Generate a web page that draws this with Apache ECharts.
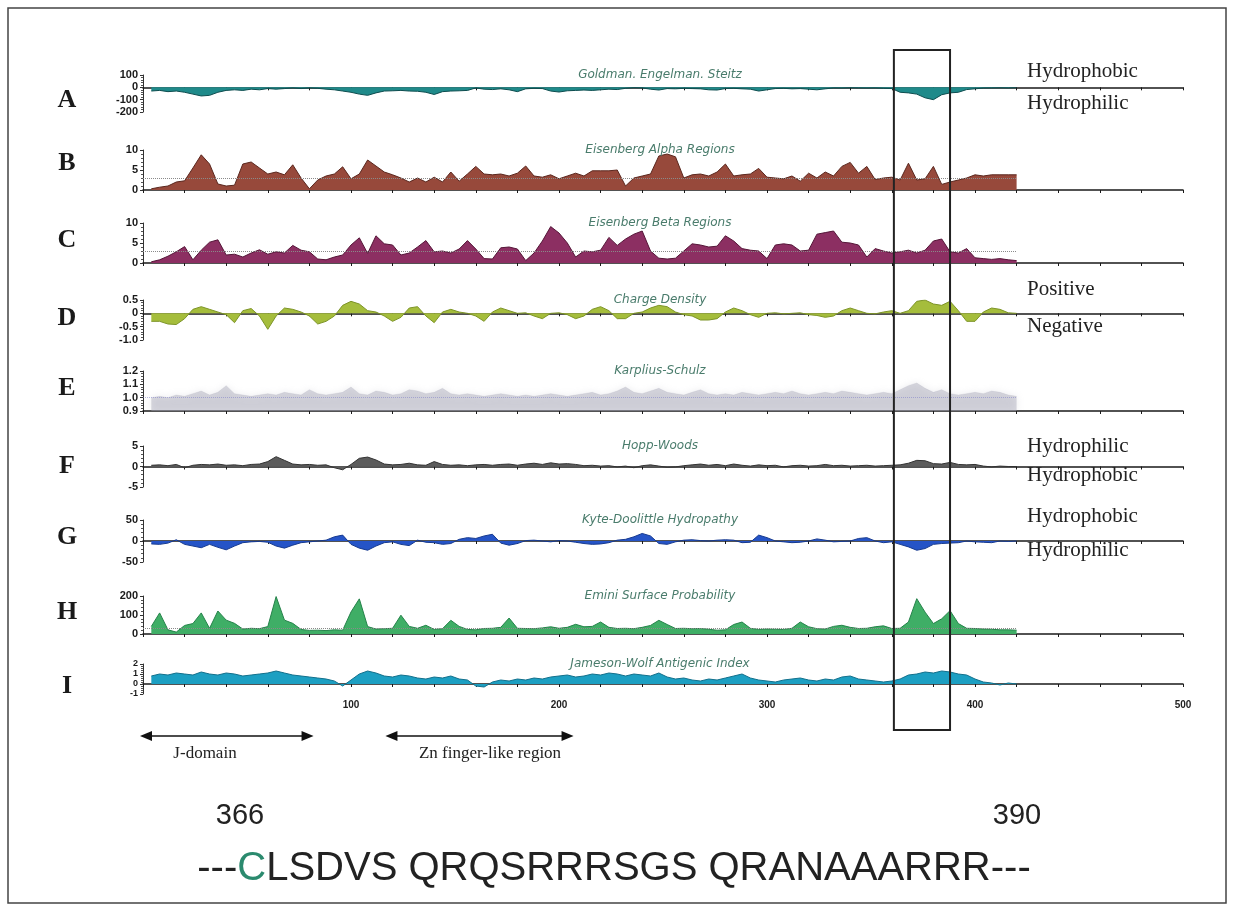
<!DOCTYPE html>
<html>
<head>
<meta charset="utf-8">
<script src="https://cdn.jsdelivr.net/npm/echarts@6/dist/echarts.min.js"></script>
<style>
  html, body { margin: 0; padding: 0; background: #ffffff; }
  #chart { width: 1233px; height: 909px; }
</style>
</head>
<body>
<div id="chart"></div>
<script>
// Residue positions of the sampled profile points
const residues = [4,8,12,16,20,24,28,32,36,40,44,48,52,56,60,64,68,72,76,80,84,88,92,96,100,
  104,108,112,116,120,124,128,132,136,140,144,148,152,156,160,164,168,172,176,180,184,188,192,196,200,
  204,208,212,216,220,224,228,232,236,240,244,248,252,256,260,264,268,272,276,280,284,288,292,296,300,
  304,308,312,316,320,324,328,332,336,340,344,348,352,356,360,364,368,372,376,380,384,388,392,396,400,
  404,408,412,416,420];

// A: Goldman, Engelman, Steitz hydrophobicity
const goldman = [-30,-25,-35,-30,-40,-55,-70,-65,-40,-25,-20,-25,-15,-20,-10,-15,-10,-5,-10,-5,-8,-15,-20,-30,-40,
  -55,-65,-45,-30,-28,-25,-30,-32,-40,-58,-35,-30,-28,-25,-5,-15,-18,-12,-20,-35,-12,-8,-10,-30,-38,
  -28,-25,-22,-25,-20,-15,-18,-8,-3,-5,-15,-22,-10,-12,-8,-10,-12,-20,-22,-10,-8,-12,-15,-30,-20,
  -10,-8,-12,-10,-15,-20,-12,-5,-6,-4,-5,-6,-5,-8,-10,-40,-45,-55,-85,-100,-60,-45,-40,-18,-12,
  -6,-5,-4,-5,-3];

// B: Eisenberg alpha regions
const eisenbergAlpha = [0.3,0.7,1.0,2.0,2.3,5.5,8.8,6.5,1.5,1.0,1.2,6.5,7.0,5.5,4.0,4.5,3.8,6.3,3.0,0.3,2.5,3.5,4.0,5.8,2.8,
  4.0,7.5,6.0,4.5,3.8,3.0,2.0,3.0,2.0,3.2,2.0,4.5,2.2,4.0,5.9,4.0,3.8,4.0,3.5,4.2,6.0,3.5,3.2,3.8,2.8,
  3.5,4.2,3.5,4.8,4.8,4.8,5.0,1.0,3.0,3.5,4.0,8.5,9.0,8.3,3.0,3.8,4.0,3.5,4.5,6.5,3.5,3.8,4.0,5.4,3.2,
  3.0,2.8,3.5,2.2,4.2,3.0,4.5,3.5,5.9,6.9,4.2,5.9,2.6,3.0,3.2,2.5,6.7,2.5,2.8,5.9,1.4,2.0,2.5,3.0,3.8,
  3.5,3.8,3.8,3.8,3.8];

// C: Eisenberg beta regions
const eisenbergBeta = [0.3,0.8,1.7,2.8,4.1,0.8,3.2,5.2,5.8,2.0,2.2,1.5,2.5,3.3,2.2,2.8,2.5,4.4,3.2,2.8,1.0,0.8,1.5,2.0,4.5,
  6.3,2.4,6.8,4.8,4.5,2.0,2.5,4.0,5.6,2.8,3.0,2.5,3.5,5.6,3.5,1.1,1.0,3.8,4.0,3.5,0.6,2.5,5.5,9.1,7.5,
  5.0,1.5,3.0,2.8,3.2,6.4,4.4,6.0,7.2,8.0,3.0,1.2,1.0,1.2,3.0,4.8,4.5,4.0,4.2,6.8,5.5,3.6,3.2,3.0,1.1,
  4.5,4.8,4.5,3.0,3.2,7.2,7.6,8.0,5.2,5.0,4.5,1.5,3.6,3.0,2.5,2.8,3.2,2.5,3.2,5.5,6.0,2.8,2.5,3.6,1.3,
  1.1,0.9,1.1,0.8,0.6];

// D: charge density
const chargeDensity = [-0.3,-0.3,-0.4,-0.42,-0.2,0.15,0.25,0.15,0.05,-0.05,-0.35,0.1,0.18,-0.1,-0.6,-0.1,0.2,0.15,0.05,-0.1,-0.4,-0.3,-0.1,0.3,0.45,
  0.35,0.1,0.05,-0.1,-0.3,-0.15,0.2,0.25,-0.1,-0.35,0.05,0.15,0.05,0.0,-0.1,-0.3,0.05,0.2,0.1,0.0,0.02,-0.1,-0.2,0.0,0.02,
  -0.05,-0.2,-0.1,0.15,0.25,0.1,-0.2,-0.2,0.0,0.05,0.2,0.3,0.25,0.05,-0.05,-0.1,-0.25,-0.25,-0.2,0.05,0.2,0.1,-0.05,-0.15,0.0,
  0.02,-0.02,0.0,0.02,-0.05,-0.08,-0.15,-0.1,0.1,0.2,0.1,0.0,-0.02,0.05,0.1,0.0,0.1,0.45,0.5,0.35,0.3,0.45,0.1,-0.3,-0.3,
  0.05,0.2,0.15,0.02,0.0];

// E: Karplus-Schulz flexibility
const karplusSchulz = [1.00,1.01,1.00,1.02,1.01,1.03,1.05,1.02,1.04,1.09,1.03,1.02,1.01,1.02,1.03,1.02,1.04,1.03,1.02,1.06,1.03,1.02,1.03,1.04,1.08,
  1.03,1.02,1.05,1.04,1.02,1.03,1.06,1.05,1.03,1.04,1.07,1.03,1.02,1.03,1.02,1.01,1.02,1.03,1.02,1.01,1.02,1.01,1.02,1.03,1.02,
  1.01,1.02,1.03,1.04,1.02,1.03,1.05,1.08,1.04,1.03,1.05,1.07,1.04,1.03,1.02,1.04,1.06,1.03,1.02,1.03,1.02,1.04,1.03,1.02,1.03,
  1.04,1.03,1.05,1.03,1.02,1.03,1.04,1.03,1.05,1.04,1.03,1.02,1.03,1.04,1.03,1.06,1.09,1.11,1.07,1.04,1.06,1.03,1.02,1.03,1.04,
  1.03,1.05,1.04,1.02,1.01];

// F: Hopp-Woods hydrophilicity
const hoppWoods = [0.3,0.4,0.2,0.5,-0.3,0.3,0.5,0.4,0.6,0.3,0.4,0.2,0.5,0.6,1.2,2.4,1.5,0.6,0.4,0.5,0.3,0.4,-0.3,-0.8,0.5,
  2.0,2.3,1.6,0.6,0.4,0.5,0.8,0.4,0.3,1.2,0.5,0.3,0.4,0.2,0.4,0.5,0.3,0.5,0.6,0.3,0.6,0.8,0.5,0.9,0.6,
  0.7,0.5,0.2,0.3,0.1,0.2,-0.1,0.1,-0.3,0.2,0.4,0.1,-0.2,-0.1,0.2,0.4,0.6,0.3,0.5,0.2,0.6,0.3,0.1,0.4,0.2,
  0.3,-0.1,0.2,0.3,0.1,0.2,0.5,0.2,0.3,0.1,0.2,0.3,0.1,0.2,0.3,0.4,0.8,1.5,1.4,0.7,0.6,1.0,0.5,0.4,0.5,
  0.1,-0.1,0.1,0.0,0.0];

// G: Kyte-Doolittle hydropathy
const kyteDoolittle = [-7,-8,-5,3,-8,-12,-16,-8,-15,-21,-12,-4,-2,-1,-3,-12,-17,-10,-4,-2,0,2,10,14,-8,
  -17,-22,-12,-4,-2,-8,-11,2,-3,-4,-8,-6,4,8,6,12,16,-5,-10,-6,1,2,0,-2,1,
  0,-3,-6,-8,-7,-4,2,4,10,18,12,-6,-8,-2,2,3,1,0,2,3,2,-4,-3,14,8,
  0,-2,-4,-3,0,5,2,-2,-1,0,6,8,0,-4,-2,-8,-14,-22,-18,-8,-6,-5,-4,0,-2,
  -3,-4,0,-1,0];

// H: Emini surface probability
const emini = [40,111,22,10,45,55,111,30,121,73,56,26,30,28,39,197,73,56,24,19,20,18,22,20,116,
  185,39,26,28,30,99,40,30,46,24,28,72,40,24,22,29,30,35,84,30,29,28,32,38,30,
  35,51,38,40,63,35,29,30,28,35,45,72,50,29,30,28,29,25,20,22,50,63,30,24,26,
  25,24,30,63,38,28,26,40,46,35,29,30,38,43,29,30,63,186,115,55,80,123,55,30,29,
  26,25,22,22,20];

// I: Jameson-Wolf antigenic index
const jamesonWolf = [0.8,1.0,0.9,1.1,1.0,0.9,1.2,1.0,0.9,1.1,1.0,0.8,0.9,1.0,1.1,1.3,1.1,0.9,0.8,0.7,0.6,0.5,0.3,-0.2,0.4,
  1.0,1.3,1.1,0.8,0.7,0.9,0.8,0.6,0.5,0.7,0.6,0.8,0.5,0.4,-0.2,-0.3,0.2,0.4,0.3,0.5,0.4,0.6,0.5,0.7,0.8,
  0.9,0.7,0.8,1.0,0.9,1.1,1.0,0.8,1.0,0.9,0.8,1.1,0.7,0.5,0.6,0.4,0.3,0.5,0.4,0.6,0.8,1.0,0.6,0.4,0.3,
  0.2,0.4,0.5,0.6,0.4,0.3,0.5,0.4,0.7,0.8,0.5,0.4,0.3,0.2,0.3,0.5,0.9,1.0,1.2,1.1,1.3,1.2,1.0,0.9,0.5,
  0.2,0.1,-0.1,0.1,0.0];

// Threshold (average) lines drawn dotted
const alphaThreshold = 3;
const betaThreshold = 3;
const eminiThreshold = 28;
const flexibilityThreshold = 1.0;

// Highlighted segment and annotated domains (residue numbers)
const boxedSegment = [361, 388];
const jDomain = [0, 82];
const znFinger = [118, 207];
const segmentLabels = ['366', '390'];
const segmentSequence = ['---', 'C', 'LSDVS QRQSRRRSGS QRANAAARRR---'];

const panels = [
  { letter: 'A', letterY: 100, title: 'Goldman. Engelman. Steitz', values: goldman, min: -200, max: 100, interval: 100,
    top: 75, height: 37, fill: '#1f8a8a', edge: '#0d4d4f', sides: ['Hydrophobic', 'Hydrophilic'], sideY: [71, 103] },
  { letter: 'B', letterY: 163, title: 'Eisenberg Alpha Regions', values: eisenbergAlpha, min: 0, max: 10, interval: 5,
    top: 150, height: 40, fill: '#97493b', edge: '#5a271e', threshold: alphaThreshold },
  { letter: 'C', letterY: 240, title: 'Eisenberg Beta Regions', values: eisenbergBeta, min: 0, max: 10, interval: 5,
    top: 223, height: 40, fill: '#8c2f62', edge: '#551638', threshold: betaThreshold },
  { letter: 'D', letterY: 318, title: 'Charge Density', values: chargeDensity, min: -1, max: 0.5, interval: 0.5,
    top: 300, height: 40, fill: '#a5bd3c', edge: '#7d9428', sides: ['Positive', 'Negative'], sideY: [289, 326],
    fmt: v => (Math.abs(v) < 1e-9 ? '0' : v.toFixed(1)) },
  { letter: 'E', letterY: 388, title: 'Karplius-Schulz', values: karplusSchulz, min: 0.9, max: 1.2, interval: 0.1,
    top: 371, height: 40, fill: 'rgba(165,165,182,0.42)', edge: 'rgba(150,150,168,0.3)', soft: true,
    threshold: flexibilityThreshold, thresholdColor: 'rgba(120,120,200,0.5)',
    fmt: v => v.toFixed(1) },
  { letter: 'F', letterY: 466, title: 'Hopp-Woods', values: hoppWoods, min: -5, max: 5, interval: 5,
    top: 446, height: 41, fill: '#5c5c5c', edge: '#333333', sides: ['Hydrophilic', 'Hydrophobic'], sideY: [446, 475] },
  { letter: 'G', letterY: 537, title: 'Kyte-Doolittle Hydropathy', values: kyteDoolittle, min: -50, max: 50, interval: 50,
    top: 520, height: 42, fill: '#2554c7', edge: '#173a8f', sides: ['Hydrophobic', 'Hydrophilic'], sideY: [516, 550] },
  { letter: 'H', letterY: 612, title: 'Emini Surface Probability', values: emini, min: 0, max: 200, interval: 100,
    top: 596, height: 38, fill: '#3fae66', edge: '#25824a', threshold: eminiThreshold },
  { letter: 'I', letterY: 686, title: 'Jameson-Wolf Antigenic Index', values: jamesonWolf, min: -1, max: 2, interval: 1,
    top: 664, height: 30, fill: '#1c9fc2', edge: '#12708c', last: true, labelSize: 9 }
];

const chart = echarts.init(document.getElementById('chart'), null, { renderer: 'canvas' });

const grids = [], xAxes = [], yAxes = [], series = [];
panels.forEach((p, i) => {
  grids.push({ left: 143, right: 50, top: p.top, height: p.height, containLabel: false });
  xAxes.push({
    type: 'value', gridIndex: i, min: 0, max: 500, interval: 20,
    axisLine: { show: true, onZero: true, lineStyle: { color: '#1a1a1a', width: 1.5 } },
    axisTick: { show: true, inside: false, length: 3, lineStyle: { color: '#1a1a1a', width: 1 } },
    axisLabel: {
      show: !!p.last, margin: 6, color: '#222',
      fontFamily: '"Liberation Sans Narrow", "Liberation Sans", Arial, sans-serif', fontWeight: 'bold', fontSize: 10,
      formatter: v => (v > 0 && v % 100 === 0 ? String(v) : '')
    },
    splitLine: { show: false }
  });
  yAxes.push({
    type: 'value', gridIndex: i, min: p.min, max: p.max, interval: p.interval,
    axisLine: { show: true, onZero: false, lineStyle: { color: '#333', width: 1 } },
    axisTick: { show: true, length: 3, lineStyle: { color: '#333' } },
    minorTick: { show: true, splitNumber: 5, length: 2, lineStyle: { color: '#555' } },
    axisLabel: {
      margin: 5, color: '#1a1a1a', fontSize: p.labelSize || 11, fontWeight: 'bold', lineHeight: p.labelSize || 11,
      showMinLabel: true, showMaxLabel: true, hideOverlap: false,
      fontFamily: '"Liberation Sans Narrow", "Liberation Sans", Arial, sans-serif',
      formatter: p.fmt || (v => String(v))
    },
    splitLine: { show: false }
  });
  const s = {
    type: 'line', xAxisIndex: i, yAxisIndex: i,
    data: residues.map((r, k) => [r, p.values[k]]),
    showSymbol: false, symbol: 'none', silent: true, animation: false,
    lineStyle: { color: p.edge, width: 1 },
    areaStyle: { color: p.fill, opacity: 1, origin: p.min > 0 ? 'start' : 'auto' },
    z: 2
  };
  if (p.soft) {
    s.areaStyle.shadowBlur = 7;
    s.areaStyle.shadowColor = 'rgba(160,160,175,0.5)';
    s.lineStyle.width = 0.5;
  }
  if (p.threshold !== undefined) {
    s.markLine = {
      silent: true, symbol: 'none', animation: false,
      label: { show: false },
      lineStyle: { type: 'dotted', color: p.thresholdColor || '#8a8a8a', width: 1 },
      data: [[{ coord: [0, p.threshold] }, { coord: [residues[residues.length - 1], p.threshold] }]]
    };
  }
  series.push(s);
});

chart.setOption({
  animation: false,
  backgroundColor: '#ffffff',
  grid: grids, xAxis: xAxes, yAxis: yAxes, series: series
});

// Annotation layer: panel letters, titles, side labels, boxed segment, domains and sequence
const serif = '"Liberation Serif", "Times New Roman", serif';
const sans = '"Liberation Sans", Arial, sans-serif';
const g = [];

g.push({ type: 'rect', shape: { x: 8, y: 8, width: 1218, height: 895 },
  style: { fill: 'none', stroke: '#444', lineWidth: 1.5 }, z: 0, silent: true });

panels.forEach((p) => {
  g.push({ type: 'text', x: 67, y: p.letterY, silent: true, z: 10,
    style: { text: p.letter, font: 'bold 26px ' + serif, fill: '#1a1a1a', align: 'center', verticalAlign: 'middle' } });
  g.push({ type: 'text', x: 660, y: p.top, silent: true, z: 10,
    style: { text: p.title, font: 'italic 12px "DejaVu Sans", Verdana, sans-serif', fill: '#4a7c6c', align: 'center', verticalAlign: 'middle' } });
  if (p.sides) {
    p.sides.forEach((label, k) => {
      g.push({ type: 'text', x: 1027, y: p.sideY[k], silent: true, z: 10,
        style: { text: label, font: '21px ' + serif, fill: '#222', align: 'left', verticalAlign: 'middle' } });
    });
  }
});

// Box around the highlighted segment, spanning all panels
const bx0 = chart.convertToPixel({ gridIndex: 0 }, [boxedSegment[0], 0])[0];
const bx1 = chart.convertToPixel({ gridIndex: 0 }, [boxedSegment[1], 0])[0];
g.push({ type: 'rect', shape: { x: bx0, y: 50, width: bx1 - bx0, height: 680 },
  style: { fill: 'none', stroke: '#222', lineWidth: 2 }, z: 20, silent: true });

// Domain arrows below the last panel
function domainArrow(range, label, y, labelX) {
  const last = panels.length - 1;
  const x0 = chart.convertToPixel({ gridIndex: last }, [range[0], 0])[0] - 3;
  const x1 = chart.convertToPixel({ gridIndex: last }, [range[1], 0])[0];
  g.push({ type: 'line', shape: { x1: x0 + 4, y1: y, x2: x1 - 4, y2: y },
    style: { stroke: '#111', lineWidth: 1.5 }, silent: true, z: 10 });
  g.push({ type: 'polygon', shape: { points: [[x0, y], [x0 + 12, y - 5], [x0 + 12, y + 5]] },
    style: { fill: '#111' }, silent: true, z: 10 });
  g.push({ type: 'polygon', shape: { points: [[x1, y], [x1 - 12, y - 5], [x1 - 12, y + 5]] },
    style: { fill: '#111' }, silent: true, z: 10 });
  g.push({ type: 'text', x: labelX, y: y + 18, silent: true, z: 10,
    style: { text: label, font: '17px ' + serif, fill: '#222', align: 'center', verticalAlign: 'middle' } });
}
domainArrow(jDomain, 'J-domain', 736, 205);
domainArrow(znFinger, 'Zn finger-like region', 736, 490);

g.push({ type: 'text', x: 240, y: 816, silent: true, z: 10,
  style: { text: segmentLabels[0], font: '29px ' + sans, fill: '#222', align: 'center', verticalAlign: 'middle' } });
g.push({ type: 'text', x: 1017, y: 816, silent: true, z: 10,
  style: { text: segmentLabels[1], font: '29px ' + sans, fill: '#222', align: 'center', verticalAlign: 'middle' } });
g.push({ type: 'text', x: 614, y: 869, silent: true, z: 10,
  style: {
    text: '{d|' + segmentSequence[0] + '}{c|' + segmentSequence[1] + '}{d|' + segmentSequence[2] + '}',
    align: 'center', verticalAlign: 'middle',
    rich: {
      d: { font: '40px ' + sans, fill: '#222' },
      c: { font: '40px ' + sans, fill: '#2b8a6e' }
    }
  } });

chart.setOption({ graphic: { elements: g } });
</script>
</body>
</html>
